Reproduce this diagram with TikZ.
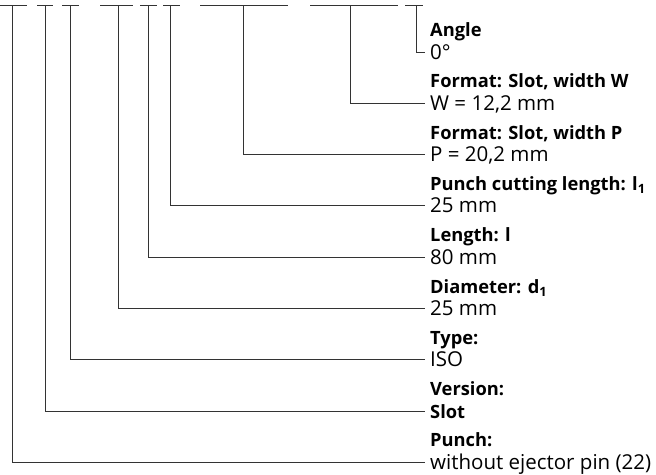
\documentclass[tikz,border=0pt]{standalone}
\usepackage{fontspec}
\setmainfont{Open Sans}
\begin{document}
\begin{tikzpicture}[x=1pt,y=-1pt,
  conn/.style={draw=black!80,line width=0.9pt},
  lab/.style={anchor=base west,inner sep=0pt,font=\bfseries\fontsize{18.3}{22}\selectfont},
  val/.style={anchor=base west,inner sep=0pt,font=\fontsize{20.5}{24}\selectfont}]
\useasboundingbox (0,0) rectangle (656,474);
% top bars
\foreach \n/\a/\b/\v in {i/0/27/12, h/37/53/45, g/62/79/70, f/100/133/118, e/140/157/148, d/163/180/170, c/200/288/243, b/310/398/350, a/405/423/416}{
  \coordinate (bl\n) at (\a,5);
  \coordinate (br\n) at (\b,5);
  \coordinate (t\n) at (\v,5);
  \draw[conn] (bl\n) -- (br\n);
}
% line end points
\coordinate (ea) at (425,52);
\coordinate (eb) at (425,103.3);
\coordinate (ec) at (425,154.6);
\coordinate (ed) at (425,205.9);
\coordinate (ee) at (425,257.2);
\coordinate (ef) at (425,308.5);
\coordinate (eg) at (425,359.8);
\coordinate (eh) at (425,411.1);
\coordinate (ei) at (425,462.4);
% labels and values
\node[lab] (la) at (430,36.5) {Angle};
\node[val] (va) at (430,59) {0°};
\node[lab] (lb) at (430,87.8) {Format: Slot, width W};
\node[val] (vb) at (430,110.3) {W = 12,2 mm};
\node[lab] (lc) at (430,139.1) {Format: Slot, width P};
\node[val] (vc) at (430,161.6) {P = 20,2 mm};
\node[lab] (ld) at (430,190.4) {Punch cutting length: l\textsubscript{1}};
\node[val] (vd) at (430,212.9) {25 mm};
\node[lab] (le) at (430,241.7) {Length: l};
\node[val] (ve) at (430,264.2) {80 mm};
\node[lab] (lf) at (430,293) {Diameter: d\textsubscript{1}};
\node[val] (vf) at (430,315.5) {25 mm};
\node[lab] (lg) at (430,344.3) {Type:};
\node[val] (vg) at (430,366.8) {ISO};
\node[lab] (lh) at (430,395.6) {Version:};
\node[lab] (vh) at (430,418.1) {Slot};
\node[lab] (li) at (430,446.9) {Punch:};
\node[val] (vi) at (430,469.4) {without ejector pin (22)};
% connectors
\foreach \n in {a,b,c,d,e,f,g,h,i}{
  \draw[conn] (t\n) |- (e\n);
}
\end{tikzpicture}
\end{document}
